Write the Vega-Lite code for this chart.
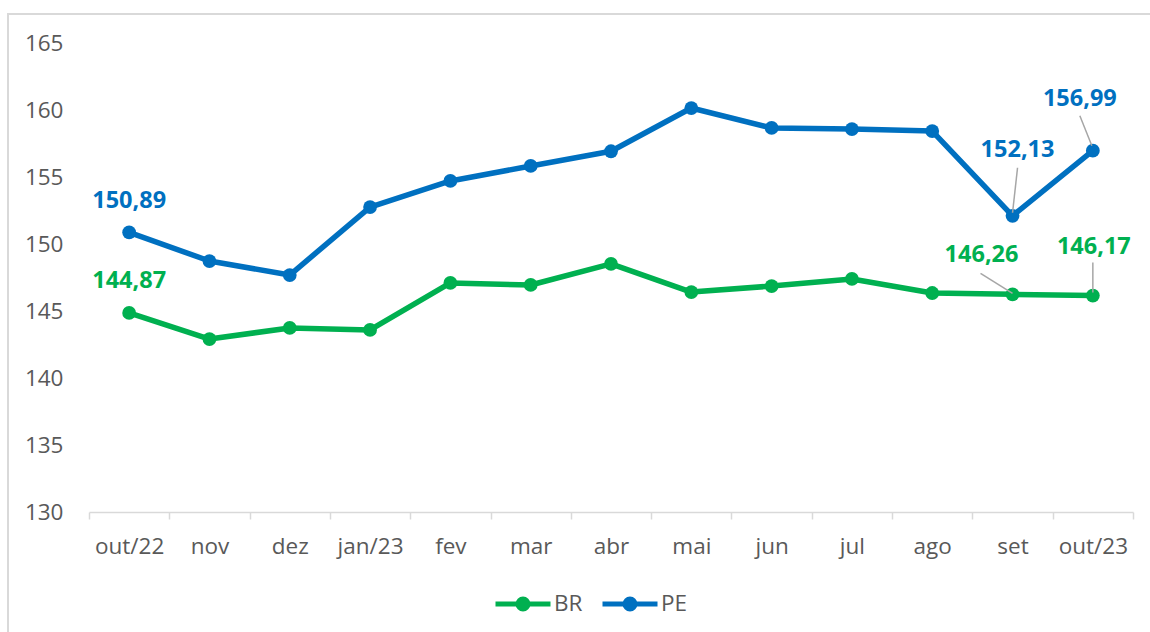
{
  "$schema": "https://vega.github.io/schema/vega-lite/v6.json",
  "width": 1150,
  "height": 640,
  "autosize": "none",
  "padding": {"left": 8, "top": 14, "right": 0, "bottom": 0},
  "background": "white",
  "config": {
    "view": {"stroke": "#D9D9D9", "strokeWidth": 2},
    "font": "Open Sans",
    "locale": {"number": {"decimal": ",", "thousands": ".", "grouping": [3], "currency": ["R$", ""]}}
  },
  "data": {
    "values": [
      {"mes": "out/22", "serie": "BR", "valor": 144.87},
      {"mes": "nov", "serie": "BR", "valor": 142.92},
      {"mes": "dez", "serie": "BR", "valor": 143.75},
      {"mes": "jan/23", "serie": "BR", "valor": 143.6},
      {"mes": "fev", "serie": "BR", "valor": 147.11},
      {"mes": "mar", "serie": "BR", "valor": 146.96},
      {"mes": "abr", "serie": "BR", "valor": 148.53},
      {"mes": "mai", "serie": "BR", "valor": 146.43},
      {"mes": "jun", "serie": "BR", "valor": 146.88},
      {"mes": "jul", "serie": "BR", "valor": 147.41},
      {"mes": "ago", "serie": "BR", "valor": 146.36},
      {"mes": "set", "serie": "BR", "valor": 146.26},
      {"mes": "out/23", "serie": "BR", "valor": 146.17},
      {"mes": "out/22", "serie": "PE", "valor": 150.89},
      {"mes": "nov", "serie": "PE", "valor": 148.75},
      {"mes": "dez", "serie": "PE", "valor": 147.7},
      {"mes": "jan/23", "serie": "PE", "valor": 152.78},
      {"mes": "fev", "serie": "PE", "valor": 154.73},
      {"mes": "mar", "serie": "PE", "valor": 155.85},
      {"mes": "abr", "serie": "PE", "valor": 156.95},
      {"mes": "mai", "serie": "PE", "valor": 160.18},
      {"mes": "jun", "serie": "PE", "valor": 158.69},
      {"mes": "jul", "serie": "PE", "valor": 158.61},
      {"mes": "ago", "serie": "PE", "valor": 158.46},
      {"mes": "set", "serie": "PE", "valor": 152.13},
      {"mes": "out/23", "serie": "PE", "valor": 156.99}
    ]
  },
  "encoding": {
    "x": {
      "field": "mes",
      "type": "nominal",
      "sort": null,
      "scale": {"type": "band", "range": [81, 1125], "paddingInner": 0, "paddingOuter": 0},
      "axis": {
        "title": null,
        "orient": "bottom",
        "offset": -142,
        "labelAngle": 0,
        "tickBand": "extent",
        "domainColor": "#D9D9D9",
        "domainWidth": 1.5,
        "tickColor": "#D9D9D9",
        "tickWidth": 1.5,
        "tickSize": 7,
        "labelPadding": 16,
        "labelFont": "Open Sans",
        "labelFontSize": 22.5,
        "labelColor": "#595959",
        "grid": false
      }
    },
    "y": {
      "field": "valor",
      "type": "quantitative",
      "scale": {"domain": [130, 165], "range": [498, 29.5], "nice": false, "zero": false},
      "axis": {
        "title": null,
        "orient": "left",
        "offset": -55,
        "values": [130, 135, 140, 145, 150, 155, 160, 165],
        "domain": false,
        "ticks": false,
        "tickSize": 0,
        "labelPadding": 0,
        "grid": false,
        "labelFont": "Open Sans",
        "labelFontSize": 22.5,
        "labelColor": "#595959"
      }
    }
  },
  "layer": [
    {
      "mark": {"type": "line", "strokeWidth": 5.5, "strokeCap": "round", "strokeJoin": "round"},
      "encoding": {
        "color": {
          "field": "serie",
          "type": "nominal",
          "scale": {"domain": ["BR", "PE"], "range": ["#00B050", "#0070C0"]},
          "legend": {
            "title": null,
            "orient": "none",
            "direction": "horizontal",
            "legendX": 485,
            "legendY": 560,
            "symbolType": "M-1,0L1,0M-0.18,0A0.18,0.18,0,1,0,0.18,0A0.18,0.18,0,1,0,-0.18,0M-0.09,0A0.09,0.09,0,1,0,0.09,0A0.09,0.09,0,1,0,-0.09,0",
            "symbolSize": 3025,
            "symbolStrokeWidth": 5,
            "labelFont": "Open Sans",
            "labelFontSize": 22.5,
            "labelColor": "#595959",
            "labelOffset": 1,
            "columnPadding": 9
          }
        }
      }
    },
    {
      "mark": {"type": "point", "filled": true, "opacity": 1, "size": 190},
      "encoding": {
        "color": {"field": "serie", "type": "nominal", "legend": null}
      }
    },
    {
      "transform": [{"filter": "(datum.mes == 'set' || datum.mes == 'out/23')"}],
      "layer": [
        {
          "transform": [{"filter": "datum.mes == 'set' && datum.serie == 'PE'"}],
          "mark": {"type": "rule", "color": "#A6A6A6", "strokeWidth": 1.5, "xOffset": 0, "yOffset": -3, "x2Offset": 5, "y2Offset": -48},
          "encoding": {"x2": {"field": "mes"}, "y2": {"field": "valor"}}
        },
        {
          "transform": [{"filter": "datum.mes == 'out/23' && datum.serie == 'PE'"}],
          "mark": {"type": "rule", "color": "#A6A6A6", "strokeWidth": 1.5, "xOffset": -1, "yOffset": -5, "x2Offset": -13, "y2Offset": -35},
          "encoding": {"x2": {"field": "mes"}, "y2": {"field": "valor"}}
        },
        {
          "transform": [{"filter": "datum.mes == 'set' && datum.serie == 'BR'"}],
          "mark": {"type": "rule", "color": "#A6A6A6", "strokeWidth": 1.5, "xOffset": 0, "yOffset": -1, "x2Offset": -32, "y2Offset": -21},
          "encoding": {"x2": {"field": "mes"}, "y2": {"field": "valor"}}
        },
        {
          "transform": [{"filter": "datum.mes == 'out/23' && datum.serie == 'BR'"}],
          "mark": {"type": "rule", "color": "#A6A6A6", "strokeWidth": 1.5, "xOffset": 0, "yOffset": -3, "x2Offset": 0, "y2Offset": -33},
          "encoding": {"x2": {"field": "mes"}, "y2": {"field": "valor"}}
        }
      ]
    },
    {
      "transform": [{"filter": "datum.mes == 'out/22' && datum.serie == 'PE'"}],
      "mark": {"type": "text", "dx": 0, "dy": -31, "fontSize": 23.5, "fontWeight": "bold", "font": "Open Sans", "baseline": "middle"},
      "encoding": {"text": {"field": "valor", "type": "quantitative", "format": ".2f"}, "color": {"field": "serie", "type": "nominal", "legend": null}}
    },
    {
      "transform": [{"filter": "datum.mes == 'out/22' && datum.serie == 'BR'"}],
      "mark": {"type": "text", "dx": 0, "dy": -32, "fontSize": 23.5, "fontWeight": "bold", "font": "Open Sans", "baseline": "middle"},
      "encoding": {"text": {"field": "valor", "type": "quantitative", "format": ".2f"}, "color": {"field": "serie", "type": "nominal", "legend": null}}
    },
    {
      "transform": [{"filter": "datum.mes == 'set' && datum.serie == 'PE'"}],
      "mark": {"type": "text", "dx": 5, "dy": -66, "fontSize": 23.5, "fontWeight": "bold", "font": "Open Sans", "baseline": "middle"},
      "encoding": {"text": {"field": "valor", "type": "quantitative", "format": ".2f"}, "color": {"field": "serie", "type": "nominal", "legend": null}}
    },
    {
      "transform": [{"filter": "datum.mes == 'out/23' && datum.serie == 'PE'"}],
      "mark": {"type": "text", "dx": -13, "dy": -52, "fontSize": 23.5, "fontWeight": "bold", "font": "Open Sans", "baseline": "middle"},
      "encoding": {"text": {"field": "valor", "type": "quantitative", "format": ".2f"}, "color": {"field": "serie", "type": "nominal", "legend": null}}
    },
    {
      "transform": [{"filter": "datum.mes == 'set' && datum.serie == 'BR'"}],
      "mark": {"type": "text", "dx": -31, "dy": -39, "fontSize": 23.5, "fontWeight": "bold", "font": "Open Sans", "baseline": "middle"},
      "encoding": {"text": {"field": "valor", "type": "quantitative", "format": ".2f"}, "color": {"field": "serie", "type": "nominal", "legend": null}}
    },
    {
      "transform": [{"filter": "datum.mes == 'out/23' && datum.serie == 'BR'"}],
      "mark": {"type": "text", "dx": 1, "dy": -49, "fontSize": 23.5, "fontWeight": "bold", "font": "Open Sans", "baseline": "middle"},
      "encoding": {"text": {"field": "valor", "type": "quantitative", "format": ".2f"}, "color": {"field": "serie", "type": "nominal", "legend": null}}
    }
  ]
}
